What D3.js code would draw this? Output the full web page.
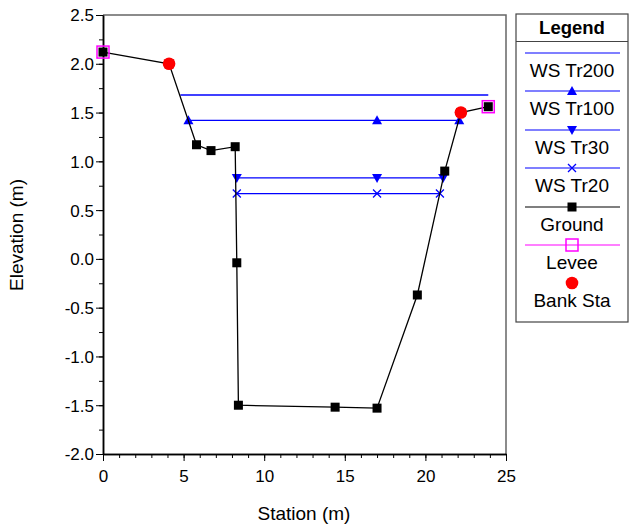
<!DOCTYPE html>
<html><head><meta charset="utf-8">
<script src="https://cdn.jsdelivr.net/npm/d3@7"></script>
<style>body{margin:0;background:#fff}svg{display:block;font-family:"Liberation Sans",Arial,sans-serif}</style>
</head><body><svg id="c" width="632" height="530"></svg>
<script>
const groundX = [0, 4.1, 5.8, 6.7, 8.2, 8.3, 8.4, 14.4, 17.0, 19.5, 21.2, 22.2, 23.9];
const groundY = [2.12, 2.0, 1.17, 1.11, 1.15, -0.04, -1.50, -1.52, -1.53, -0.37, 0.90, 1.50, 1.56];
const leveeX = [0, 23.9];
const leveeY = [2.12, 1.56];
const bankX = [4.1, 22.2];
const bankY = [2.0, 1.50];
const wsTr200X = [4.8, 23.9];
const wsTr200Y = [1.68, 1.68];
const wsTr100X = [5.3, 17.0, 22.1];
const wsTr100Y = [1.42, 1.42, 1.42];
const wsTr30X = [8.3, 17.0, 21.1];
const wsTr30Y = [0.83, 0.83, 0.83];
const wsTr20X = [8.3, 17.0, 20.9];
const wsTr20Y = [0.67, 0.67, 0.67];
const xTicks = [0, 5, 10, 15, 20, 25];
const yTicks = [2.5, 2.0, 1.5, 1.0, 0.5, 0.0, -0.5, -1.0, -1.5, -2.0];
const legendLabels = ["WS Tr200", "WS Tr100", "WS Tr30", "WS Tr20", "Ground", "Levee", "Bank Sta"];

const svg = d3.select("#c");
const FF = "Liberation Sans, Arial, sans-serif";
const L = 103, R = 506, T = 15, B = 454;
const x = d3.scaleLinear().domain([0, 25]).range([L, R]);
const y = d3.scaleLinear().domain([-2, 2.5]).range([B, T]);
const zip = (a, b) => a.map((v, i) => [v, b[i]]);
const line = d3.line().x(d => x(d[0])).y(d => y(d[1]));
const BLUE = "#0000ff";

// frame top/right
svg.append("path").attr("d", `M${L},${T}H${R}V${B}`).attr("fill", "none").attr("stroke", "#666").attr("stroke-width", 1.5);

// axes
const xAxis = d3.axisBottom(x).tickValues(xTicks).tickFormat(d3.format("d")).tickSize(7).tickSizeOuter(0);
const gx = svg.append("g").attr("transform", `translate(0,${B})`).call(xAxis);
const gxm = svg.append("g").attr("transform", `translate(0,${B})`).call(d3.axisBottom(x).tickValues(d3.range(0, 26, 1)).tickFormat("").tickSize(4).tickSizeOuter(0));
const yAxis = d3.axisLeft(y).tickValues(yTicks).tickFormat(d3.format(".1f")).tickSize(7).tickSizeOuter(0);
const gy = svg.append("g").attr("transform", `translate(${L},0)`).call(yAxis);
const gym = svg.append("g").attr("transform", `translate(${L},0)`).call(d3.axisLeft(y).tickValues(d3.range(-2, 2.51, 0.25)).tickFormat("").tickSize(4).tickSizeOuter(0));
[gx, gy, gxm, gym].forEach(g => { g.select(".domain").attr("stroke", "#000").attr("stroke-width", 1.5); g.selectAll("line").attr("stroke", "#000").attr("stroke-width", 1); });
gx.selectAll("text").attr("font-size", 17).attr("fill", "#000").attr("y", 12).attr("dy", "0.95em").attr("font-family", FF);
gy.selectAll("text").attr("font-size", 17).attr("fill", "#000").attr("dy", "0.35em").attr("x", -9).attr("font-family", FF);
gy.selectAll("text").text(d => d3.format(".1f")(d).replace("−", "-"));

svg.append("text").attr("x", 304).attr("y", 520).attr("text-anchor", "middle").attr("font-size", 19).text("Station (m)");
svg.append("text").attr("transform", "translate(23,235) rotate(-90)").attr("text-anchor", "middle").attr("font-size", 19).text("Elevation (m)");

const plot = svg.append("g");
function marker(g, type, px, py, color) {
  if (type === "up") g.append("path").attr("d", `M${px},${py-5}L${px+5},${py+4}L${px-5},${py+4}Z`).attr("fill", color);
  else if (type === "down") g.append("path").attr("d", `M${px},${py+5}L${px+5},${py-4}L${px-5},${py-4}Z`).attr("fill", color);
  else if (type === "x") g.append("path").attr("d", `M${px-4},${py-4}L${px+4},${py+4}M${px-4},${py+4}L${px+4},${py-4}`).attr("stroke", color).attr("stroke-width", 1.3);
  else if (type === "sq") g.append("rect").attr("x", px-4.5).attr("y", py-4.5).attr("width", 9).attr("height", 9).attr("fill", color);
  else if (type === "osq") g.append("rect").attr("x", px-6).attr("y", py-6).attr("width", 12).attr("height", 12).attr("fill", "none").attr("stroke", color).attr("stroke-width", 1.5);
  else if (type === "circ") g.append("circle").attr("cx", px).attr("cy", py).attr("r", 6.3).attr("fill", color);
}
const series = [
  {xs: wsTr200X, ys: wsTr200Y, color: BLUE, m: null, line: true},
  {xs: wsTr100X, ys: wsTr100Y, color: BLUE, m: "up", line: true},
  {xs: wsTr30X, ys: wsTr30Y, color: BLUE, m: "down", line: true},
  {xs: wsTr20X, ys: wsTr20Y, color: BLUE, m: "x", line: true},
  {xs: groundX, ys: groundY, color: "#000", m: "sq", line: true},
  {xs: leveeX, ys: leveeY, color: "#ff00ff", m: "osq", line: false},
  {xs: bankX, ys: bankY, color: "#ff0000", m: "circ", line: false}
];
series.forEach(s => {
  if (s.line) plot.append("path").attr("d", line(zip(s.xs, s.ys))).attr("fill", "none").attr("stroke", s.color).attr("stroke-width", 1.3);
  if (s.m) s.xs.forEach((v, i) => marker(plot, s.m, x(v), y(s.ys[i]), s.color));
});

// legend
const lg = svg.append("g");
lg.append("rect").attr("x", 516).attr("y", 14).attr("width", 112).attr("height", 308).attr("fill", "#fff").attr("stroke", "#444").attr("stroke-width", 1.2);
lg.append("line").attr("x1", 516).attr("x2", 628).attr("y1", 41.5).attr("y2", 41.5).attr("stroke", "#444").attr("stroke-width", 1.2);
lg.append("text").attr("x", 572).attr("y", 34).attr("text-anchor", "middle").attr("font-size", 18.5).attr("font-weight", "bold").text("Legend");
const lineYs = [53, 91, 130, 168, 207, 245, 283];
series.forEach((s, i) => {
  const ly = lineYs[i];
  if (i < 6) lg.append("line").attr("x1", 525).attr("x2", 620).attr("y1", ly).attr("y2", ly).attr("stroke", s.color).attr("stroke-width", 1.2);
  if (s.m) marker(lg, s.m, 572, ly, s.color);
  lg.append("text").attr("x", 572).attr("y", ly + 23.5).attr("text-anchor", "middle").attr("font-size", 19).text(legendLabels[i]);
});
</script></body></html>
